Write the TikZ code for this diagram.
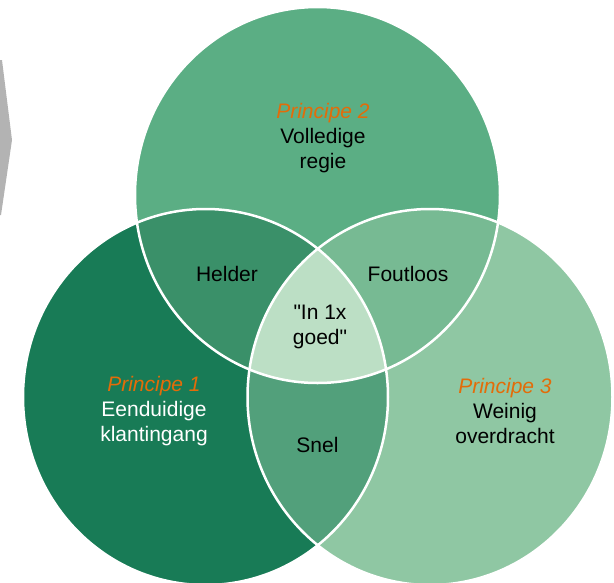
\documentclass[tikz,border=0pt]{standalone}
\usepackage{fontspec}
\newfontfamily\vennfont{Liberation Sans}
\definecolor{chevron}{HTML}{B3B3B3}
\definecolor{greenone}{HTML}{187B56}
\definecolor{greentwo}{HTML}{5BAE84}
\definecolor{greenthree}{HTML}{8FC7A3}
\definecolor{greenonetwo}{HTML}{3A9069}
\definecolor{greentwothree}{HTML}{77BA93}
\definecolor{greenonethree}{HTML}{52A07B}
\definecolor{greenall}{HTML}{BCDFC5}
\definecolor{princ}{HTML}{E36C09}
\tikzset{
  disc/.style={x radius=182.5,y radius=188},
  txt/.style={align=center,inner sep=0pt,font=\vennfont\fontsize{21}{25}\selectfont}
}
\newcommand{\princ}[1]{\textcolor{princ}{\itshape Principe #1}}
\begin{document}
\begin{tikzpicture}[x=1pt,y=-1pt]
      \useasboundingbox (0,0) rectangle (614,582);
      \fill[chevron] (0,60) -- (2,60) -- (12,140) -- (1,215) -- (0,215) -- cycle;
      \coordinate (1) at (205.5,397);
      \coordinate (2) at (317.5,195);
      \coordinate (3) at (430,397);
      \fill[greenone,disc] (1) ellipse;
      \fill[greentwo,disc] (2) ellipse;
      \fill[greenthree,disc] (3) ellipse;
      \begin{scope}
        \clip[disc] (1) ellipse;
        \fill[greenonetwo,disc] (2) ellipse;
        \fill[greenonethree,disc] (3) ellipse;
      \end{scope}
      \begin{scope}
        \clip[disc] (2) ellipse;
        \fill[greentwothree,disc] (3) ellipse;
      \end{scope}
      \begin{scope}
        \clip[disc] (1) ellipse;
        \clip[disc] (2) ellipse;
        \fill[greenall,disc] (3) ellipse;
      \end{scope}
      \begin{scope}[white,line width=2.5pt]
        \draw[disc] (1) ellipse;
        \draw[disc] (2) ellipse;
        \draw[disc] (3) ellipse;
      \end{scope}
      \node[txt] (p2) at (323,138) {\princ{2}\\Volledige\\regie};
      \node[txt,white] (p1) at (154,411) {\princ{1}\\Eenduidige\\klantingang};
      \node[txt] (p3) at (505,411) {\princ{3}\\Weinig\\overdracht};
      \node[txt] (helder) at (227,274) {Helder};
      \node[txt] (foutloos) at (408,274) {Foutloos};
      \node[txt] (goed) at (320,327) {"In 1x\\goed"};
      \node[txt] (snel) at (317.5,445) {Snel};
\end{tikzpicture}
\end{document}
